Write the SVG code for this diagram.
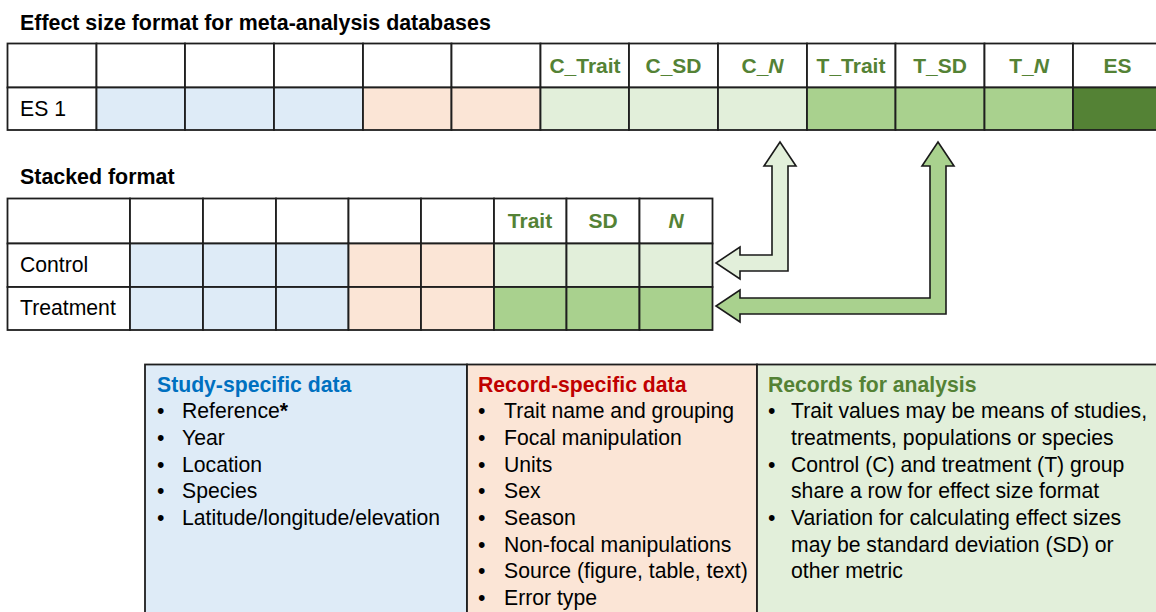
<svg xmlns="http://www.w3.org/2000/svg" width="1156" height="612" viewBox="0 0 1156 612">
  <style>
    text { font-family: "Liberation Sans", Arial, sans-serif; font-size: 21.2px; fill: #000; }
    .title { font-weight: bold; font-size: 21.4px; }
    .hdr { font-weight: bold; fill: #548235; text-anchor: middle; font-size: 21px; }
    .it { font-style: italic; }
    .cell { stroke: #1e1e1e; stroke-width: 1.8; }
    .w { fill: #ffffff; }
    .b { fill: #deebf7; }
    .p { fill: #fbe5d6; }
    .g1 { fill: #e2efda; }
    .g2 { fill: #a9d18e; }
    .g3 { fill: #548235; }
    .arrow { stroke: #1a1a1a; stroke-width: 1.6; stroke-linejoin: miter; }
    .box { stroke: #1e1e1e; stroke-width: 1.8; }
    .bh { font-weight: bold; }
  </style>

  <!-- Effect size format table -->
  <g id="effect-size-table">
    <text class="title" x="20" y="30">Effect size format for meta-analysis databases</text>
    <!-- header row -->
    <rect class="cell w" x="7.5" y="43.5" width="89" height="44"/>
    <rect class="cell w" x="96.5" y="43.5" width="88.5" height="44"/>
    <rect class="cell w" x="185" y="43.5" width="89" height="44"/>
    <rect class="cell w" x="274" y="43.5" width="89" height="44"/>
    <rect class="cell w" x="363" y="43.5" width="88.5" height="44"/>
    <rect class="cell w" x="451.5" y="43.5" width="89" height="44"/>
    <rect class="cell w" x="540.5" y="43.5" width="88.5" height="44"/>
    <rect class="cell w" x="629" y="43.5" width="89" height="44"/>
    <rect class="cell w" x="718" y="43.5" width="89" height="44"/>
    <rect class="cell w" x="807" y="43.5" width="88.5" height="44"/>
    <rect class="cell w" x="895.5" y="43.5" width="89" height="44"/>
    <rect class="cell w" x="984.5" y="43.5" width="88.5" height="44"/>
    <rect class="cell w" x="1073" y="43.5" width="89" height="44"/>
    <!-- data row -->
    <rect class="cell w" x="7.5" y="87.5" width="89" height="42.5"/>
    <rect class="cell b" x="96.5" y="87.5" width="88.5" height="42.5"/>
    <rect class="cell b" x="185" y="87.5" width="89" height="42.5"/>
    <rect class="cell b" x="274" y="87.5" width="89" height="42.5"/>
    <rect class="cell p" x="363" y="87.5" width="88.5" height="42.5"/>
    <rect class="cell p" x="451.5" y="87.5" width="89" height="42.5"/>
    <rect class="cell g1" x="540.5" y="87.5" width="88.5" height="42.5"/>
    <rect class="cell g1" x="629" y="87.5" width="89" height="42.5"/>
    <rect class="cell g1" x="718" y="87.5" width="89" height="42.5"/>
    <rect class="cell g2" x="807" y="87.5" width="88.5" height="42.5"/>
    <rect class="cell g2" x="895.5" y="87.5" width="89" height="42.5"/>
    <rect class="cell g2" x="984.5" y="87.5" width="88.5" height="42.5"/>
    <rect class="cell g3" x="1073" y="87.5" width="89" height="42.5"/>
    <!-- labels -->
    <text class="hdr" x="585" y="73">C_Trait</text>
    <text class="hdr" x="673.5" y="73">C_SD</text>
    <text class="hdr" x="762.5" y="73">C_<tspan class="it">N</tspan></text>
    <text class="hdr" x="851" y="73">T_Trait</text>
    <text class="hdr" x="940" y="73">T_SD</text>
    <text class="hdr" x="1029" y="73">T_<tspan class="it">N</tspan></text>
    <text class="hdr" x="1117.5" y="73">ES</text>
    <text x="20" y="116">ES 1</text>
  </g>

  <!-- Stacked format table -->
  <g id="stacked-table">
    <text class="title" x="20" y="184">Stacked format</text>
    <!-- header row -->
    <rect class="cell w" x="7.5" y="198.5" width="122.5" height="45"/>
    <rect class="cell w" x="130" y="198.5" width="73" height="45"/>
    <rect class="cell w" x="203" y="198.5" width="73" height="45"/>
    <rect class="cell w" x="276" y="198.5" width="72.5" height="45"/>
    <rect class="cell w" x="348.5" y="198.5" width="72.5" height="45"/>
    <rect class="cell w" x="421" y="198.5" width="73" height="45"/>
    <rect class="cell w" x="494" y="198.5" width="72.5" height="45"/>
    <rect class="cell w" x="566.5" y="198.5" width="73" height="45"/>
    <rect class="cell w" x="639.5" y="198.5" width="73" height="45"/>
    <!-- control row -->
    <rect class="cell w" x="7.5" y="243.5" width="122.5" height="43.5"/>
    <rect class="cell b" x="130" y="243.5" width="73" height="43.5"/>
    <rect class="cell b" x="203" y="243.5" width="73" height="43.5"/>
    <rect class="cell b" x="276" y="243.5" width="72.5" height="43.5"/>
    <rect class="cell p" x="348.5" y="243.5" width="72.5" height="43.5"/>
    <rect class="cell p" x="421" y="243.5" width="73" height="43.5"/>
    <rect class="cell g1" x="494" y="243.5" width="72.5" height="43.5"/>
    <rect class="cell g1" x="566.5" y="243.5" width="73" height="43.5"/>
    <rect class="cell g1" x="639.5" y="243.5" width="73" height="43.5"/>
    <!-- treatment row -->
    <rect class="cell w" x="7.5" y="287" width="122.5" height="43"/>
    <rect class="cell b" x="130" y="287" width="73" height="43"/>
    <rect class="cell b" x="203" y="287" width="73" height="43"/>
    <rect class="cell b" x="276" y="287" width="72.5" height="43"/>
    <rect class="cell p" x="348.5" y="287" width="72.5" height="43"/>
    <rect class="cell p" x="421" y="287" width="73" height="43"/>
    <rect class="cell g2" x="494" y="287" width="72.5" height="43"/>
    <rect class="cell g2" x="566.5" y="287" width="73" height="43"/>
    <rect class="cell g2" x="639.5" y="287" width="73" height="43"/>
    <!-- labels -->
    <text class="hdr" x="530" y="228">Trait</text>
    <text class="hdr" x="603" y="228">SD</text>
    <text class="hdr" x="676" y="228"><tspan class="it">N</tspan></text>
    <text x="20" y="272">Control</text>
    <text x="20" y="315">Treatment</text>
  </g>

  <!-- Block arrows linking the two formats -->
  <g id="connectors">
    <polygon class="arrow g1" points="780,142 796,166 788,166 788,271 740,271 740,279 716,263 740,247 740,255 772,255 772,166 764,166"/>
    <polygon class="arrow g2" points="938,142 954,166 946,166 946,314 740,314 740,322 716,306 740,290 740,298 930,298 930,166 922,166"/>
  </g>

  <!-- Legend: study-specific data -->
  <g id="study-specific">
    <rect class="box b" x="145" y="364.5" width="322" height="260"/>
    <text class="bh" x="157" y="392" style="fill:#0070c0">Study-specific data</text>
    <text x="157" y="418">•</text><text x="182" y="418">Reference<tspan class="bh">*</tspan></text>
    <text x="157" y="445">•</text><text x="182" y="445">Year</text>
    <text x="157" y="472">•</text><text x="182" y="472">Location</text>
    <text x="157" y="498">•</text><text x="182" y="498">Species</text>
    <text x="157" y="525">•</text><text x="182" y="525">Latitude/longitude/elevation</text>
  </g>

  <!-- Legend: record-specific data -->
  <g id="record-specific">
    <rect class="box p" x="467" y="364.5" width="290" height="260"/>
    <text class="bh" x="478" y="392" style="fill:#c00000">Record-specific data</text>
    <text x="478" y="418">•</text><text x="504" y="418">Trait name and grouping</text>
    <text x="478" y="445">•</text><text x="504" y="445">Focal manipulation</text>
    <text x="478" y="472">•</text><text x="504" y="472">Units</text>
    <text x="478" y="498">•</text><text x="504" y="498">Sex</text>
    <text x="478" y="525">•</text><text x="504" y="525">Season</text>
    <text x="478" y="552">•</text><text x="504" y="552">Non-focal manipulations</text>
    <text x="478" y="578">•</text><text x="504" y="578">Source (figure, table, text)</text>
    <text x="478" y="605">•</text><text x="504" y="605">Error type</text>
  </g>

  <!-- Legend: records for analysis -->
  <g id="records-for-analysis">
    <rect class="box g1" x="757" y="364.5" width="410" height="260"/>
    <text class="bh" x="768" y="392" style="fill:#548235">Records for analysis</text>
    <text x="768" y="418">•</text><text x="791" y="418">Trait values may be means of studies,</text>
    <text x="791" y="445">treatments, populations or species</text>
    <text x="768" y="472">•</text><text x="791" y="472">Control (C) and treatment (T) group</text>
    <text x="791" y="498">share a row for effect size format</text>
    <text x="768" y="525">•</text><text x="791" y="525">Variation for calculating effect sizes</text>
    <text x="791" y="552">may be standard deviation (SD) or</text>
    <text x="791" y="578">other metric</text>
  </g>
</svg>
